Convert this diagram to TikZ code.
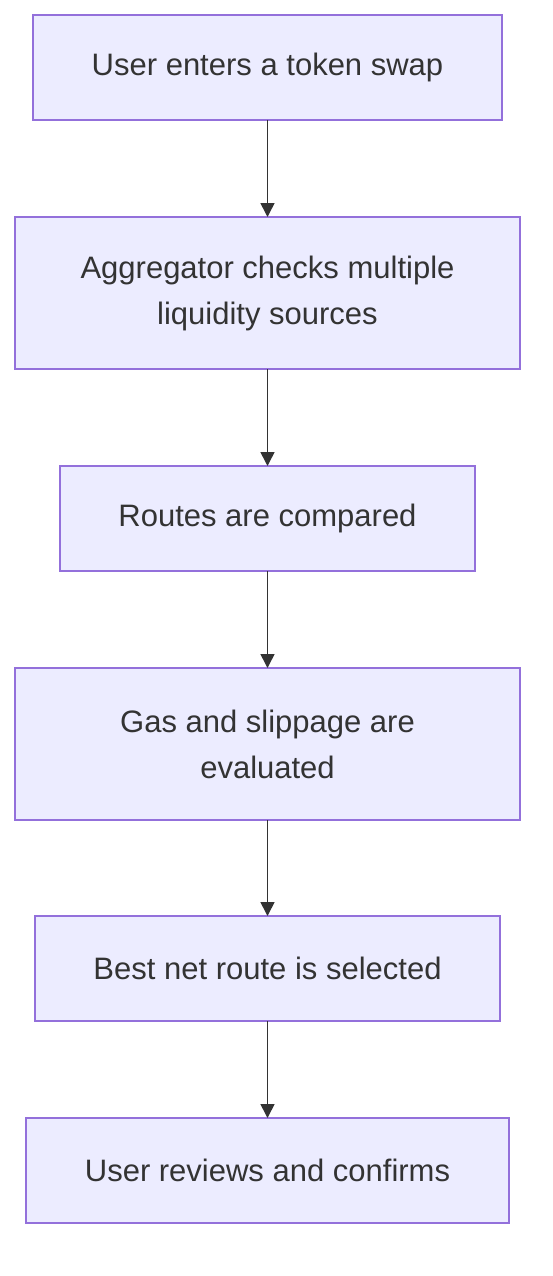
\documentclass[tikz,border=0pt]{standalone}
\usepackage{fontspec}
\setmainfont{Liberation Sans}
\usetikzlibrary{positioning, arrows.meta}
\definecolor{boxfill}{HTML}{ECECFF}
\definecolor{boxline}{HTML}{9370DB}
\definecolor{ink}{HTML}{333333}

\begin{document}
\begin{tikzpicture}[
  every node/.style={font=\fontsize{31}{46}\selectfont, text=ink},
  box/.style={draw=boxline, fill=boxfill, line width=1.6pt, outer sep=0pt, rectangle, align=center, minimum height=105pt},
  tall/.style={box, minimum height=152pt},
  arr/.style={-{Triangle[length=14pt, width=14pt]}, line width=1.6pt, draw=ink}
]
  \useasboundingbox (0,0) rectangle (552pt,-1276pt);

  \node[box, minimum width=469pt] (swap) at (267.5pt,-67.5pt) {User enters a token swap};
  \node[tall, below=97pt of swap, minimum width=505pt] (check) {Aggregator checks multiple\\liquidity sources};
  \node[box, below=97pt of check, minimum width=415pt] (compare) {Routes are compared};
  \node[tall, below=97pt of compare, minimum width=505pt] (gas) {Gas and slippage are\\evaluated};
  \node[box, below=96pt of gas, minimum width=465pt] (best) {Best net route is selected};
  \node[box, below=97pt of best, minimum width=483pt] (confirm) {User reviews and confirms};

  \draw[arr] (swap) -- (check);
  \draw[arr] (check) -- (compare);
  \draw[arr] (compare) -- (gas);
  \draw[arr] (gas) -- (best);
  \draw[arr] (best) -- (confirm);
\end{tikzpicture}
\end{document}
